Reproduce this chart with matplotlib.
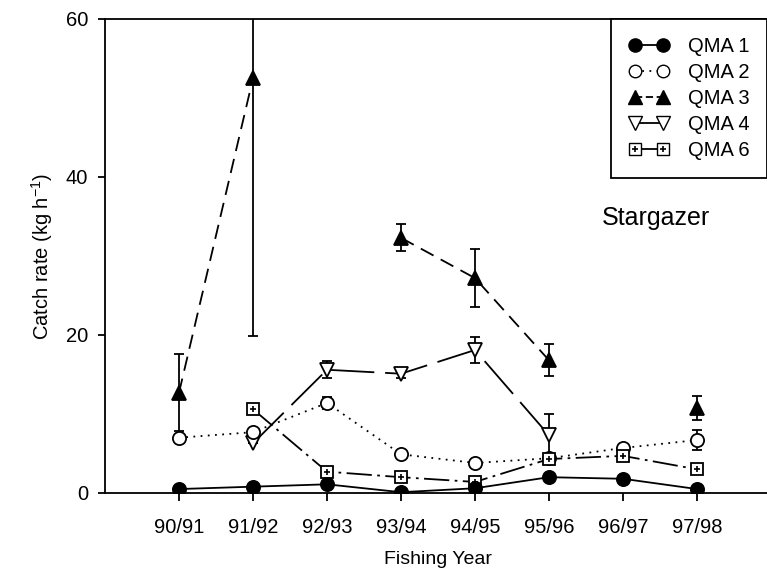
import numpy as np
import matplotlib.pyplot as plt
from matplotlib.legend_handler import HandlerTuple

plt.rcParams['font.family'] = ['Liberation Sans', 'DejaVu Sans']
plt.rcParams['mathtext.default'] = 'regular'

years = ['90/91', '91/92', '92/93', '93/94', '94/95', '95/96', '96/97', '97/98']
nan = np.nan

# catch rates (kg/h) and standard errors
qma1 = [0.5, 0.8, 1.1, 0.1, 0.6, 2.0, 1.8, 0.5]
qma1_se = [0, 0, 0, 0, 0, 0, 0, 0]
qma2 = [7.0, 7.7, 11.4, 4.9, 3.8, 4.4, 5.7, 6.7]
qma2_se = [0, 0, 0.8, 0, 0, 0, 0, 1.3]
qma3 = [12.7, 52.5, nan, 32.3, 27.2, 16.8, nan, 10.8]
qma3_se = [4.9, 32.6, nan, 1.7, 3.7, 2.0, nan, 1.5]
qma4 = [nan, 6.3, 15.6, 15.1, 18.1, 7.3, nan, nan]
qma4_se = [nan, 0, 1.1, 0.5, 1.6, 2.7, nan, nan]
qma6 = [nan, 10.6, 2.7, 2.0, 1.4, 4.3, 4.7, 3.0]
qma6_se = [nan, 0.3, 0.3, 0.3, 0.3, 0.3, 0.6, 0.6]

x = np.arange(len(years))

fig = plt.figure(figsize=(7.67, 5.76), dpi=100)
ax = fig.add_axes([105/767, 83/576, 666/767, 474/576])

lw = 1.3
common = dict(color='black', lw=lw, capsize=3.6, elinewidth=lw, capthick=lw, mec='black', mew=1.3)

ax.errorbar(x, qma4, yerr=qma4_se, fmt='v', ls=(0, (24, 6)), ms=10, mfc='white', zorder=3, **common)
ax.errorbar(x, qma2, yerr=qma2_se, fmt='o', ls=(0, (1, 3)), ms=9.5, mfc='white', zorder=3, **common)
ax.errorbar(x, qma6, yerr=qma6_se, fmt='s', ls=(0, (14, 3, 1.5, 3)), ms=9, mfc='white', zorder=3.5, **common)
ax.plot(x, qma6, '+', color='black', ms=5, mew=1.2, zorder=4)
ax.errorbar(x, qma3, yerr=qma3_se, fmt='^', ls=(0, (8, 4.5)), ms=10, mfc='black', zorder=3, **common)
ax.errorbar(x, qma1, yerr=qma1_se, fmt='o', ls='-', ms=9.5, mfc='black', zorder=5, **common)

ax.set_xlim(-1, 8)
ax.set_ylim(0, 60)
ax.set_xticks(x)
ax.set_xticklabels(years)
ax.set_yticks([0, 20, 40, 60])
ax.tick_params(labelsize=14.5, width=lw, direction='out')
ax.tick_params(axis='x', length=6, pad=12)
ax.tick_params(axis='y', length=5, pad=7)
for s in ax.spines.values():
    s.set_linewidth(lw)

ax.set_xlabel('Fishing Year', fontsize=14, labelpad=10)
ax.set_ylabel('Catch rate (kg h$^{-1}$)', fontsize=14.5, labelpad=8)

ax.text(5.72, 33.9, 'Stargazer', fontsize=18, ha='left', va='baseline')

# legend handles
h1, = ax.plot([], [], 'o-', color='black', ms=9.5, mfc='black', lw=lw)
h2, = ax.plot([], [], 'o', ls=(0, (1, 3)), color='black', ms=9, mfc='white', lw=lw)
h3, = ax.plot([], [], '^', ls=(0, (4, 2)), color='black', ms=10, mfc='black', lw=lw)
h4, = ax.plot([], [], 'v-', color='black', ms=10, mfc='white', lw=lw)
h6a, = ax.plot([], [], 's-', color='black', ms=9, mfc='white', lw=lw)
h6b, = ax.plot([], [], '+', color='black', ms=5, mew=1.2)

leg = fig.legend([h1, h2, h3, h4, (h6a, h6b)], ['QMA 1', 'QMA 2', 'QMA 3', 'QMA 4', 'QMA 6'],
                 loc='upper left', bbox_to_anchor=(611/767, 557/576), borderaxespad=0,
                 fontsize=14.5, numpoints=2, handlelength=2.0, handletextpad=0.9,
                 borderpad=0.9, labelspacing=0.35, fancybox=False, framealpha=1,
                 edgecolor='black', handler_map={tuple: HandlerTuple(ndivide=1)})
leg.get_frame().set_linewidth(lw)

fig.savefig('out.png', dpi=100)
